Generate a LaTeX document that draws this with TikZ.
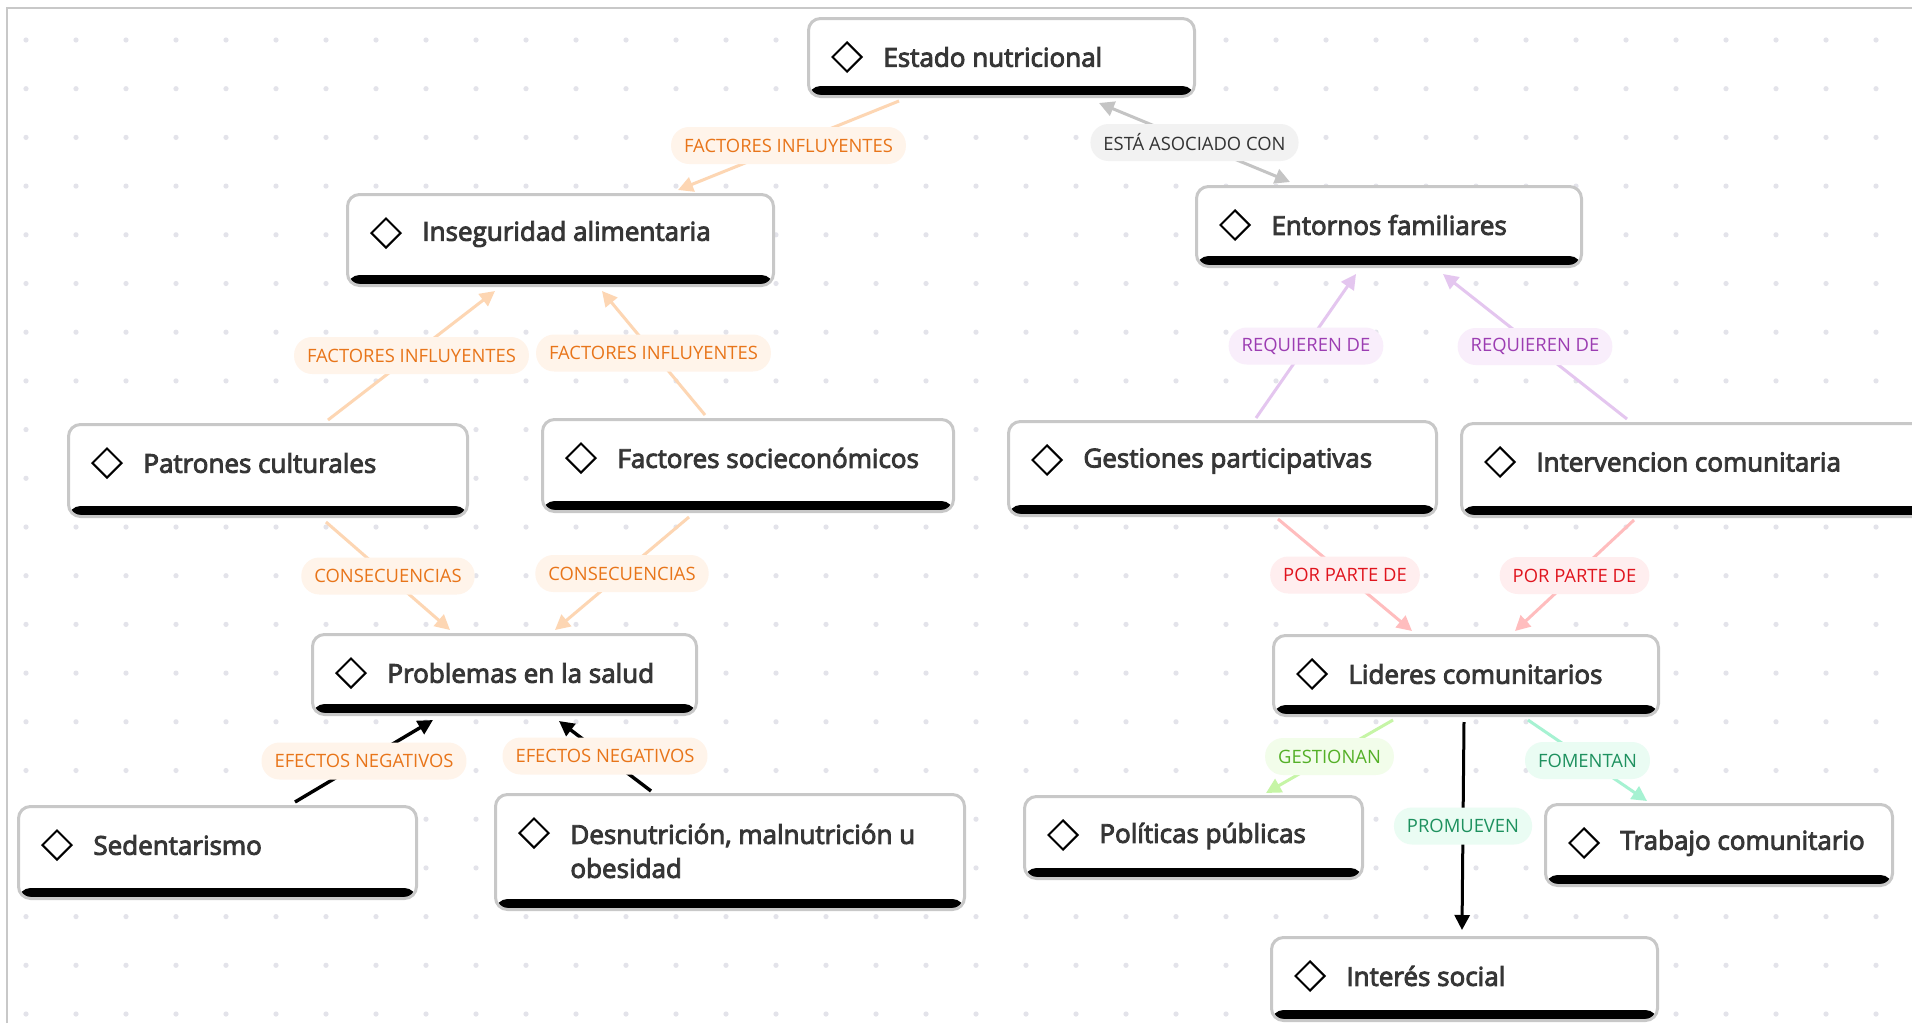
\documentclass[tikz,border=0pt]{standalone}
\usepackage{fontspec}
\setmainfont{Open Sans}
\newfontfamily\nodefont{Open Sans}[FakeBold=3.5]
\usetikzlibrary{arrows.meta,calc,shapes.geometric}

\definecolor{boxgray}{HTML}{C8C8C8}
\definecolor{txtgray}{HTML}{363636}
\definecolor{dotgray}{HTML}{E3E3EA}
\definecolor{orT}{HTML}{E8751A}\definecolor{orF}{HTML}{FFF4EA}\definecolor{orL}{HTML}{FDD6B3}
\definecolor{grT}{HTML}{333333}\definecolor{grF}{HTML}{F2F2F2}\definecolor{grL}{HTML}{C4C4C4}
\definecolor{puT}{HTML}{9C3DB2}\definecolor{puF}{HTML}{F9EEFB}\definecolor{puL}{HTML}{E4C6EF}
\definecolor{reT}{HTML}{E0141E}\definecolor{reF}{HTML}{FFEEEF}\definecolor{reL}{HTML}{FFBDBE}
\definecolor{gnT}{HTML}{54B027}\definecolor{gnF}{HTML}{F2FDEA}\definecolor{gnL}{HTML}{C6F5A6}
\definecolor{tqT}{HTML}{1E915F}\definecolor{tqF}{HTML}{EAFCF3}\definecolor{tqL}{HTML}{A6F2D2}

\tikzset{
  cbox/.style={draw=boxgray, line width=1.5pt, rounded corners=6pt, fill=white,
    inner sep=0pt, anchor=north west,
    path picture={\fill[black] ([yshift=-1pt]path picture bounding box.south west)
      rectangle ([yshift=5.25pt]path picture bounding box.south east);}},
  cdia/.style={diamond, draw=black, line width=1pt, minimum width=15pt,
    minimum height=15pt, inner sep=0pt},
  ctext/.style={font=\nodefont\fontsize{13}{17}\selectfont, text=txtgray,
    anchor=west, inner sep=0pt, align=left},
  conn/.style={line width=1.5pt, -{Triangle[length=7.5pt,width=7.5pt]}},
  conn2/.style={line width=1.5pt, {Triangle[length=7.5pt,width=7.5pt]}-{Triangle[length=7.5pt,width=7.5pt]}},
  pill/.style={rounded corners=9pt, minimum height=18.5pt, inner xsep=6.5pt,
    inner ysep=0pt, font=\fontsize{9.2}{11}\selectfont},
}

% name, x, y, w, h, text y offset, text
\newcommand\mkbox[7]{%
  \node[cbox, minimum width=#4*0.5pt, minimum height=#5*0.5pt] (#1) at (#2,#3) {};
  \node[cdia] (#1-d) at ($(#1.north west)+(40,40)$) {};
  \node[ctext] (#1-t) at ($(#1.north west)+(76,#6)$) {#7};
}

\begin{document}
\begin{tikzpicture}[x=0.5pt,y=-0.5pt]
\useasboundingbox (0,0) rectangle (1912,1023);
\fill[white] (0,0) rectangle (1912,1023);
\foreach \i in {0,...,37}{\foreach \j in {0,...,20}{
  \fill[dotgray] ({26+50*\i},{40+48.7*\j}) circle[radius=1.3pt];}}
\draw[boxgray, line width=1pt] (6.5,1023) -- (6.5,7.5) -- (1912,7.5);

% boxes
\mkbox{estado}{807}{17}{386}{78}{40}{Estado nutricional}
\mkbox{insegur}{346}{193}{426}{91}{41}{Inseguridad alimentaria}
\mkbox{entornos}{1195}{185}{385}{80}{40}{Entornos familiares}
\mkbox{patrones}{67}{423}{399}{92}{40}{Patrones culturales}
\mkbox{factores}{541}{418}{411}{92}{40}{Factores socieconómicos}
\mkbox{gestiones}{1007}{420}{428}{94}{41}{Gestiones participativas}
\mkbox{interv}{1460}{422}{480}{93}{40}{Intervencion comunitaria}
\mkbox{problemas}{311}{633}{384}{80}{40}{Problemas en la salud}
\mkbox{lideres}{1272}{634}{385}{80}{40}{Lideres comunitarios}
\mkbox{sedent}{17}{805}{398}{92}{40}{Sedentarismo}
\mkbox{desnut}{494}{793}{469}{115}{58}{Desnutrición, malnutrición u\\obesidad}
\mkbox{politicas}{1023}{795}{338}{82}{41}{Políticas públicas}
\mkbox{trabajo}{1544}{803}{347}{81}{40}{Trabajo comunitario}
\mkbox{interes}{1270}{936}{386}{83}{40}{Interés social}

% connectors
\draw[conn, orL] ($(estado.south west)+(92,3)$) --
  node[pill, fill=orF, text=orT] (l1) {FACTORES INFLUYENTES} ($(insegur.north west)+(332,-3)$);
\draw[conn2, grL] ($(estado.south west)+(292,5)$) --
  node[pill, fill=grF, text=grT] (l2) {ESTÁ ASOCIADO CON} ($(entornos.north west)+(95,-3)$);
\draw[conn, orL] ($(patrones.north west)+(261,-3)$) --
  node[pill, fill=orF, text=orT] (l3) {FACTORES INFLUYENTES} ($(insegur.south west)+(149,4)$);
\draw[conn, orL] ($(factores.north west)+(164,-3)$) --
  node[pill, fill=orF, text=orT] (l4) {FACTORES INFLUYENTES} ($(insegur.south west)+(256,4)$);
\draw[conn, orL] ($(patrones.south west)+(259,4)$) --
  node[pill, fill=orF, text=orT] (l5) {CONSECUENCIAS} ($(problemas.north west)+(139,-3)$);
\draw[conn, orL] ($(factores.south west)+(148,4)$) --
  node[pill, fill=orF, text=orT] (l6) {CONSECUENCIAS} ($(problemas.north west)+(244,-3)$);
\draw[conn, black, line width=1.7pt] ($(sedent.north west)+(278,-3)$) --
  node[pill, fill=orF, text=orT] (l7) {EFECTOS NEGATIVOS} ($(problemas.south west)+(122,4)$);
\draw[conn, black, line width=1.7pt] ($(desnut.north west)+(157,-2)$) --
  node[pill, fill=orF, text=orT] (l8) {EFECTOS NEGATIVOS} ($(problemas.south west)+(248,5)$);
\draw[conn, puL] ($(gestiones.north west)+(249,-2)$) --
  node[pill, fill=puF, text=puT] (l9) {REQUIEREN DE} ($(entornos.south west)+(161,6)$);
\draw[conn, puL] ($(interv.north west)+(167,-3)$) --
  node[pill, fill=puF, text=puT] (l10) {REQUIEREN DE} ($(entornos.south west)+(248,6)$);
\draw[conn, reL] ($(gestiones.south west)+(271,2)$) --
  node[pill, fill=reF, text=reT] (l11) {POR PARTE DE} ($(lideres.north west)+(140,-3)$);
\draw[conn, reL] ($(interv.south west)+(174,2)$) --
  node[pill, fill=reF, text=reT] (l12) {POR PARTE DE} ($(lideres.north west)+(243,-3)$);
\draw[conn, gnL] ($(lideres.south west)+(121,3)$) --
  node[pill, fill=gnF, text=gnT] (l13) {GESTIONAN} ($(politicas.north west)+(243,-2)$);
\draw[conn, tqL] ($(lideres.south west)+(256,3)$) --
  node[pill, fill=tqF, text=tqT] (l14) {FOMENTAN} ($(trabajo.north west)+(103,-2)$);
\draw[conn, black] ($(lideres.south west)+(192,5)$) --
  node[pill, fill=tqF, text=tqT] (l15) {PROMUEVEN} ($(interes.north west)+(192,-6)$);
\end{tikzpicture}
\end{document}
